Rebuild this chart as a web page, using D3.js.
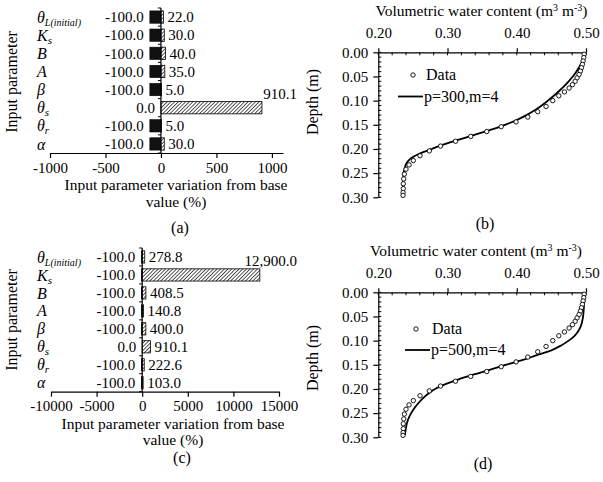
<!DOCTYPE html>
<html>
<head>
<meta charset="utf-8">
<script src="https://cdn.jsdelivr.net/npm/d3@7"></script>
<style>
  body { margin: 0; background: #fff; }
  svg, svg text { font-family: "Liberation Serif", "Times New Roman", "DejaVu Serif", serif; }
</style>
</head>
<body>
<svg id="fig" width="603" height="482" font-family="Liberation Serif, serif"></svg>
<script>
// ---- bar panels (a) and (c) ----
const paramSym = ['θ', 'K', 'B', 'A', 'β', 'θ', 'θ', 'α']
const paramSub = ['L(initial)', 's', '', '', '', 's', 'r', '']

const negA = [-100, -100, -100, -100, -100, 0, -100, -100]
const posA = [22, 30, 40, 35, 5, 910.1, 5, 30]
const ticksA = [-1000, -500, 0, 500, 1000]

const negC = [-100, -100, -100, -100, -100, 0, -100, -100]
const posC = [278.8, 12900, 408.5, 140.8, 400, 910.1, 222.6, 103]
const ticksC = [-10000, -5000, 0, 5000, 10000, 15000]

// ---- profile panels (b) and (d) ----
const obsDepth = [0.004, 0.011, 0.018, 0.025, 0.032, 0.039, 0.046, 0.053, 0.060, 0.067,
  0.074, 0.082, 0.090, 0.100, 0.112, 0.123, 0.134, 0.144, 0.154, 0.164, 0.174, 0.184,
  0.194, 0.204, 0.214, 0.224, 0.233, 0.242, 0.252, 0.262, 0.272, 0.282, 0.290, 0.296]
const obsTheta = [0.4973, 0.4968, 0.4958, 0.4948, 0.4934, 0.4919, 0.4900, 0.4871, 0.4843, 0.4804,
  0.4756, 0.4688, 0.4607, 0.4520, 0.4423, 0.4303, 0.4159, 0.3990, 0.3775, 0.3566, 0.3335, 0.3115,
  0.2900, 0.2737, 0.2603, 0.2506, 0.2444, 0.2400, 0.2376, 0.2367, 0.2361, 0.2361, 0.2358, 0.2357]

const simDepthB = [0, 0.01, 0.02, 0.03, 0.04, 0.05, 0.06, 0.07, 0.08, 0.09, 0.10, 0.11, 0.12, 0.13,
  0.14, 0.15, 0.16, 0.17, 0.18, 0.19, 0.20, 0.205, 0.21, 0.215, 0.22, 0.225, 0.23, 0.24, 0.25, 0.26, 0.27, 0.28]
const simThetaB = [0.4995, 0.4975, 0.4945, 0.4905, 0.4860, 0.4810, 0.4750, 0.4685, 0.4612, 0.4535, 0.4450,
  0.4360, 0.4260, 0.4140, 0.4000, 0.3830, 0.3630, 0.3410, 0.3180, 0.2960, 0.2770, 0.2680, 0.2590, 0.2520,
  0.2465, 0.2430, 0.2405, 0.2380, 0.2368, 0.2362, 0.2360, 0.2359]

const simDepthD = [0, 0.01, 0.02, 0.03, 0.04, 0.05, 0.06, 0.07, 0.08, 0.09, 0.10, 0.11, 0.12, 0.13,
  0.14, 0.15, 0.16, 0.17, 0.18, 0.19, 0.20, 0.21, 0.22, 0.23, 0.24, 0.25, 0.26, 0.27, 0.28, 0.29, 0.295]
const simThetaD = [0.4985, 0.4980, 0.4975, 0.4970, 0.4965, 0.4958, 0.4945, 0.4925, 0.4890, 0.4835, 0.4750,
  0.4640, 0.4500, 0.4290, 0.4090, 0.3840, 0.3620, 0.3380, 0.3160, 0.2970, 0.2820, 0.2720, 0.2640, 0.2575,
  0.2520, 0.2475, 0.2440, 0.2415, 0.2400, 0.2390, 0.2386]

const thetaTicks = [0.2, 0.3, 0.4, 0.5]
const depthTicks = [0, 0.05, 0.10, 0.15, 0.20, 0.25, 0.30]

const SERIF = '"Liberation Serif", "Times New Roman", serif'
const svg = d3.select('#fig').attr('font-family', SERIF)
svg.append('rect').attr('width', 603).attr('height', 482).attr('fill', '#fff')

const defs = svg.append('defs')
const hatch = defs.append('pattern')
  .attr('id', 'hatch')
  .attr('patternUnits', 'userSpaceOnUse')
  .attr('width', 2.6).attr('height', 2.6)
  .attr('patternTransform', 'rotate(45)')
hatch.append('rect').attr('width', 2.6).attr('height', 2.6).attr('fill', '#fff')
hatch.append('line').attr('x1', 0).attr('y1', 0).attr('x2', 0).attr('y2', 2.6)
  .attr('stroke', '#000').attr('stroke-width', 1.3)

const FS = 15

function fmtVal(v) {
  return (v < 0 ? '-' : '') + d3.format(',.1f')(Math.abs(v))
}

function styleAxis(ax) {
  ax.attr('font-family', SERIF).attr('font-size', FS)
  ax.selectAll('text').attr('fill', '#000')
  ax.selectAll('line, path').attr('stroke', '#000').attr('stroke-width', 1.2)
}

function drawBars(cfg) {
  const x = d3.scaleLinear().domain(cfg.domain).range(cfg.xRange)
  const y = d3.scaleBand().domain(d3.range(paramSym.length))
    .range(cfg.yRange).paddingInner(0.32).paddingOuter(0.16)
  const g = svg.append('g')

  // negative bars
  g.selectAll('rect.neg').data(cfg.neg).join('rect')
    .attr('class', 'neg')
    .attr('x', d => x(d)).attr('width', d => x(0) - x(d))
    .attr('y', (d, i) => y(i)).attr('height', y.bandwidth())
    .attr('fill', '#111').attr('stroke', '#000').attr('stroke-width', 0.6)
  // positive bars
  g.selectAll('rect.pos').data(cfg.pos).join('rect')
    .attr('class', 'pos')
    .attr('x', x(0)).attr('width', d => x(d) - x(0))
    .attr('y', (d, i) => y(i)).attr('height', y.bandwidth())
    .attr('fill', 'url(#hatch)').attr('stroke', '#000').attr('stroke-width', 0.8)

  // value labels
  g.selectAll('text.neglab').data(cfg.neg).join('text')
    .attr('x', d => x(d) - 6).attr('y', (d, i) => y(i) + y.bandwidth() / 2)
    .attr('dy', '0.35em').attr('text-anchor', 'end').attr('font-size', FS)
    .text(fmtVal)
  const maxPos = d3.max(cfg.pos)
  g.selectAll('text.poslab').data(cfg.pos).join('text')
    .attr('x', d => d === maxPos ? cfg.bigLabelX : x(d) + 4)
    .attr('y', (d, i) => d === maxPos ? y(i) - 3 : y(i) + y.bandwidth() / 2)
    .attr('dy', d => d === maxPos ? 0 : '0.35em')
    .attr('text-anchor', d => d === maxPos ? 'end' : 'start')
    .attr('font-size', FS)
    .text(fmtVal)

  // vertical axis at zero
  const y0 = cfg.yRange[0], y1 = cfg.yRange[1]
  g.append('line').attr('x1', x(0)).attr('x2', x(0)).attr('y1', y0).attr('y2', y1)
    .attr('stroke', '#000').attr('stroke-width', 1.2)
  g.selectAll('line.cat').data(d3.range(paramSym.length + 1)).join('line')
    .attr('x1', x(0) - 3).attr('x2', x(0))
    .attr('y1', i => y0 + i * y.step()).attr('y2', i => y0 + i * y.step())
    .attr('stroke', '#000').attr('stroke-width', 1)

  // category labels
  const cats = g.selectAll('text.cat').data(paramSym).join('text')
    .attr('x', cfg.catX).attr('y', (d, i) => y(i) + y.bandwidth() / 2)
    .attr('dy', '0.35em').attr('font-size', 16).attr('font-style', 'italic')
  cats.append('tspan').text(d => d)
  cats.append('tspan').attr('dy', 3)
    .attr('font-size', (d, i) => paramSub[i].length > 2 ? 10 : 11)
    .text((d, i) => paramSub[i])

  // bottom axis
  const ax = g.append('g').attr('transform', `translate(0,${y1})`)
    .call(d3.axisBottom(x).tickValues(cfg.ticks).tickSize(5).tickSizeOuter(0)
      .tickPadding(cfg.tickPad).tickFormat(d => String(d)))
  styleAxis(ax)

  // titles
  g.append('text').attr('transform', `translate(${cfg.yTitle[0]},${cfg.yTitle[1]}) rotate(-90)`)
    .attr('text-anchor', 'middle').attr('font-size', 16).text('Input parameter')
  g.append('text').attr('x', cfg.xTitle[0]).attr('y', cfg.xTitle[1])
    .attr('text-anchor', 'middle').attr('font-size', 15.5).text('Input parameter variation from base')
  g.append('text').attr('x', cfg.xTitle[0]).attr('y', cfg.xTitle[2])
    .attr('text-anchor', 'middle').attr('font-size', 15.5).text('value (%)')
  g.append('text').attr('x', cfg.panel[0]).attr('y', cfg.panel[1])
    .attr('text-anchor', 'middle').attr('font-size', 16).text(cfg.panelName)
}

function drawProfile(cfg) {
  const x = d3.scaleLinear().domain([0.2, 0.5]).range([378.3, 586])
  const y = d3.scaleLinear().domain([0, 0.3]).range(cfg.yRange)
  const g = svg.append('g')
  const top = cfg.yRange[0]

  // top axis
  const ax = g.append('g').attr('transform', `translate(0,${top})`)
    .call(d3.axisTop(x).tickValues(thetaTicks).tickSize(4).tickSizeOuter(0)
      .tickPadding(10).tickFormat(d3.format('.2f')))
  styleAxis(ax)
  g.selectAll('line.xminor').data(d3.range(0.2, 0.5001, 0.02)).join('line')
    .attr('x1', d => x(d)).attr('x2', d => x(d)).attr('y1', top).attr('y2', top + 3)
    .attr('stroke', '#000').attr('stroke-width', 1)

  // left axis
  const ay = g.append('g').attr('transform', `translate(${x(0.2)},0)`)
    .call(d3.axisLeft(y).tickValues(depthTicks).tickSize(5).tickSizeOuter(0)
      .tickPadding(5).tickFormat(d3.format('.2f')))
  styleAxis(ay)
  g.selectAll('line.yminor').data(d3.range(0, 0.3001, 0.01)).join('line')
    .attr('x1', x(0.2)).attr('x2', x(0.2) + 3).attr('y1', d => y(d)).attr('y2', d => y(d))
    .attr('stroke', '#000').attr('stroke-width', 1)

  // simulated curve
  const line = d3.line().x(d => x(d[1])).y(d => y(d[0])).curve(d3.curveMonotoneY)
  g.append('path').datum(cfg.simDepth.map((d, i) => [d, cfg.simTheta[i]]))
    .attr('d', line).attr('fill', 'none').attr('stroke', '#000').attr('stroke-width', 1.8)

  // observed data
  g.selectAll('circle.obs').data(obsDepth).join('circle')
    .attr('cx', (d, i) => x(obsTheta[i])).attr('cy', d => y(d)).attr('r', 2.2)
    .attr('fill', '#fff').attr('stroke', '#000').attr('stroke-width', 0.9)

  // legend
  const L = cfg.legend
  g.append('circle').attr('cx', L.cx).attr('cy', L.cy).attr('r', 2.2)
    .attr('fill', '#fff').attr('stroke', '#000').attr('stroke-width', 0.9)
  g.append('text').attr('x', L.tx).attr('y', L.cy + 5).attr('font-size', 16).text('Data')
  g.append('line').attr('x1', L.lx0).attr('x2', L.lx1).attr('y1', L.ly).attr('y2', L.ly)
    .attr('stroke', '#000').attr('stroke-width', 1.8)
  g.append('text').attr('x', L.lx1 + 1).attr('y', L.ly + 5).attr('font-size', 16).text(cfg.label)

  // titles
  const t = g.append('text').attr('x', cfg.xTitle[0]).attr('y', cfg.xTitle[1])
    .attr('text-anchor', 'middle').attr('font-size', 15.5)
  t.append('tspan').text('Volumetric water content (m')
  t.append('tspan').attr('dy', -5).attr('font-size', 10).text('3')
  t.append('tspan').attr('dy', 5).text(' m')
  t.append('tspan').attr('dy', -5).attr('font-size', 10).text('-3')
  t.append('tspan').attr('dy', 5).text(')')
  g.append('text').attr('transform', `translate(${cfg.yTitle[0]},${cfg.yTitle[1]}) rotate(-90)`)
    .attr('text-anchor', 'middle').attr('font-size', 16).text('Depth (m)')
  g.append('text').attr('x', cfg.panel[0]).attr('y', cfg.panel[1])
    .attr('text-anchor', 'middle').attr('font-size', 16).text(cfg.panelName)
}

drawBars({
  neg: negA, pos: posA, ticks: ticksA, domain: [-1000, 1100],
  xRange: [50, 283], yRange: [8, 153], tickPad: 4, bigLabelX: 297, catX: 37,
  yTitle: [17, 82], xTitle: [176, 190, 207], panel: [180, 233], panelName: '(a)'
})
drawBars({
  neg: negC, pos: posC, ticks: ticksC, domain: [-10000, 15000],
  xRange: [51, 279], yRange: [248, 391.7], tickPad: 4, bigLabelX: 297, catX: 37,
  yTitle: [17, 320], xTitle: [173, 429, 445], panel: [182, 463], panelName: '(c)'
})
drawProfile({
  yRange: [52.3, 197.3], simDepth: simDepthB, simTheta: simThetaB, label: 'p=300,m=4',
  legend: { cx: 413, cy: 75, tx: 426, lx0: 398, lx1: 423, ly: 96.5 },
  xTitle: [481.5, 16], yTitle: [318, 102], panel: [485, 229], panelName: '(b)'
})
drawProfile({
  yRange: [292.3, 437.3], simDepth: simDepthD, simTheta: simThetaD, label: 'p=500,m=4',
  legend: { cx: 416, cy: 329, tx: 432, lx0: 405, lx1: 430, ly: 350 },
  xTitle: [476, 256], yTitle: [318, 358], panel: [483, 469], panelName: '(d)'
})
</script>
</body>
</html>
